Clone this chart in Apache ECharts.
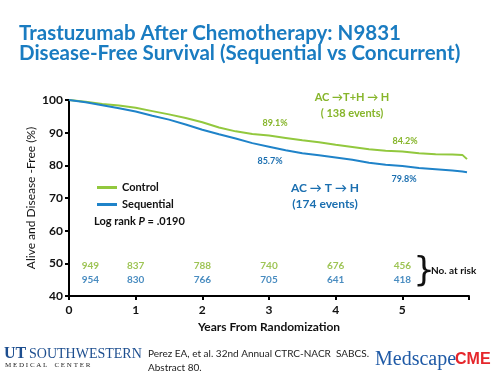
<!DOCTYPE html>
<html>
<head>
<meta charset="utf-8">
<script src="https://cdn.jsdelivr.net/npm/echarts@6/dist/echarts.min.js"></script>
<style>
    html, body { margin: 0; padding: 0; background: #fff; }
    #main { width: 500px; height: 375px; }
</style>
</head>
<body>
<div id="main"></div>
<script>
    // (years, % disease-free)
    var years = [0, 0.25, 0.5, 0.75, 1, 1.25, 1.5, 1.75, 2, 2.25, 2.5, 2.75, 3, 3.25, 3.5, 3.75, 4, 4.25, 4.5, 4.75, 5, 5.25, 5.5, 5.75, 5.9, 5.97];
    var controlDfs = [100, 99.5, 98.8, 98.3, 97.6, 96.6, 95.6, 94.5, 93.2, 91.6, 90.4, 89.6, 89.1, 88.4, 87.7, 87.1, 86.3, 85.6, 84.9, 84.5, 84.2, 83.7, 83.4, 83.3, 83.2, 81.9];
    var sequentialDfs = [100, 99.3, 98.4, 97.5, 96.5, 95.2, 94.0, 92.5, 90.9, 89.5, 88.2, 86.8, 85.7, 84.6, 83.7, 83.1, 82.4, 81.7, 80.8, 80.2, 79.8, 79.2, 78.8, 78.4, 78.1, 77.9];

    // numbers at risk
    var riskYears = [0.32, 1, 2, 3, 4, 5];
    var riskControl = [949, 837, 788, 740, 676, 456];
    var riskSequential = [954, 830, 766, 705, 641, 418];

    var yTicks = [40, 50, 60, 70, 80, 90, 100];

    var green = '#92c83e';
    var greenText = '#86b52a';
    var blue = '#1f83c9';
    var blueText = '#1b6fb0';
    var font = 'Lato, "Open Sans", sans-serif';

    function pairs(xs, ys) {
        return xs.map(function (x, i) { return [x, ys[i]]; });
    }

    var chart = echarts.init(document.getElementById('main'));
    chart.setOption({
        animation: false,
        textStyle: { fontFamily: font },
        grid: { left: 69, right: 31, top: 100, bottom: 79 },
        legend: {
            orient: 'vertical',
            left: 92,
            top: 177,
            itemWidth: 20,
            itemHeight: 3,
            itemGap: 6,
            icon: 'rect',
            textStyle: { fontFamily: font, fontSize: 11, fontWeight: 'bold', color: '#111' },
            data: ['Control', 'Sequential']
        },
        xAxis: {
            type: 'value',
            min: 0,
            max: 6,
            interval: 1,
            name: 'Years From Randomization',
            nameLocation: 'middle',
            nameGap: 25,
            nameTextStyle: { fontFamily: font, fontSize: 12, fontWeight: 'bold', color: '#111' },
            axisLine: { show: true, onZero: false, lineStyle: { color: '#000', width: 2 } },
            axisTick: { show: true, length: 4, lineStyle: { color: '#000', width: 2 } },
            axisLabel: {
                fontFamily: font, fontSize: 12, fontWeight: 'bold', color: '#111', margin: 8,
                formatter: function (v) { return v <= 5 ? String(v) : ''; }
            },
            splitLine: { show: false }
        },
        yAxis: {
            type: 'value',
            min: yTicks[0],
            max: yTicks[yTicks.length - 1],
            interval: 10,
            name: 'Alive and Disease -Free (%)',
            nameLocation: 'middle',
            nameRotate: 90,
            nameGap: 32,
            nameMoveOverlap: false,
            nameTextStyle: { fontFamily: font, fontSize: 12, color: '#111' },
            axisLine: { show: true, lineStyle: { color: '#000', width: 2 } },
            axisTick: { show: true, length: 4, lineStyle: { color: '#000', width: 2 } },
            axisLabel: { fontFamily: font, fontSize: 12, fontWeight: 'bold', color: '#111', margin: 6 },
            splitLine: { show: false }
        },
        series: [
            {
                name: 'Control',
                type: 'line',
                data: pairs(years, controlDfs),
                symbol: 'none',
                color: green,
                lineStyle: { color: green, width: 2 },
                z: 3
            },
            {
                name: 'Sequential',
                type: 'line',
                data: pairs(years, sequentialDfs),
                symbol: 'none',
                color: blue,
                lineStyle: { color: blue, width: 2 },
                z: 3
            },
            {
                name: 'riskControl',
                type: 'scatter',
                data: pairs(riskYears, riskControl.map(function () { return 49.2; })),
                symbolSize: 0,
                label: {
                    show: true, position: 'inside',
                    formatter: function (p) { return riskControl[p.dataIndex]; },
                    fontFamily: font, fontSize: 10, fontWeight: 'bold', color: greenText
                },
                silent: true
            },
            {
                name: 'riskSequential',
                type: 'scatter',
                data: pairs(riskYears, riskSequential.map(function () { return 45.0; })),
                symbolSize: 0,
                label: {
                    show: true, position: 'inside',
                    formatter: function (p) { return riskSequential[p.dataIndex]; },
                    fontFamily: font, fontSize: 10, fontWeight: 'bold', color: blueText
                },
                silent: true
            }
        ],
        graphic: [
            // title
            { type: 'text', left: 19, top: 23, style: { text: 'Trastuzumab After Chemotherapy: N9831', font: 'bold 20.5px ' + font, fill: '#1a7cc1' } },
            { type: 'text', left: 19, top: 43, style: { text: 'Disease-Free Survival (Sequential vs Concurrent)', font: 'bold 20.5px ' + font, fill: '#1a7cc1' } },

            // arm annotations
            { type: 'text', x: 352, y: 97, style: { text: 'AC \u2192T+H \u2192 H', font: 'bold 11px ' + font, fill: greenText, align: 'center', verticalAlign: 'middle' } },
            { type: 'text', x: 352, y: 113, style: { text: '( 138 events)', font: 'bold 11px ' + font, fill: greenText, align: 'center', verticalAlign: 'middle' } },
            { type: 'text', x: 275, y: 123, style: { text: '89.1%', font: 'bold 9px ' + font, fill: greenText, align: 'center', verticalAlign: 'middle' } },
            { type: 'text', x: 405, y: 141, style: { text: '84.2%', font: 'bold 9px ' + font, fill: greenText, align: 'center', verticalAlign: 'middle' } },
            { type: 'text', x: 270, y: 161, style: { text: '85.7%', font: 'bold 9px ' + font, fill: blueText, align: 'center', verticalAlign: 'middle' } },
            { type: 'text', x: 404, y: 179, style: { text: '79.8%', font: 'bold 9px ' + font, fill: blueText, align: 'center', verticalAlign: 'middle' } },
            { type: 'text', x: 325, y: 188, style: { text: 'AC \u2192 T \u2192 H', font: 'bold 12px ' + font, fill: blueText, align: 'center', verticalAlign: 'middle' } },
            { type: 'text', x: 325, y: 204, style: { text: '(174 events)', font: 'bold 12px ' + font, fill: blueText, align: 'center', verticalAlign: 'middle' } },

            // log rank
            {
                type: 'text', left: 94, top: 216,
                style: {
                    text: '{a|Log rank }{b|P}{a| = .0190}',
                    rich: {
                        a: { font: 'bold 11px ' + font, fill: '#111' },
                        b: { font: 'italic bold 11px ' + font, fill: '#111' }
                    }
                }
            },

            // at risk bracket
            { type: 'text', x: 424, y: 272, style: { text: '}', font: '34px "DejaVu Sans", sans-serif', fill: '#111', align: 'center', verticalAlign: 'middle' } },
            { type: 'text', left: 431, top: 266, style: { text: 'No. at risk', font: 'bold 10px ' + font, fill: '#111' } },

            // footer
            { type: 'text', left: 4, top: 346, style: { text: 'UT', font: 'bold 16px "Liberation Serif", serif', fill: '#1d4e8f' } },
            { type: 'text', left: 29, top: 347, style: { text: 'SOUTHWESTERN', font: '14px "Liberation Serif", serif', fill: '#1d4e8f' } },
            { type: 'text', left: 5, top: 362, style: { text: 'M E D I C A L    C E N T E R', font: '7px "Liberation Serif", serif', fill: '#222' } },
            { type: 'text', left: 148, top: 349, style: { text: 'Perez EA, et al. 32nd Annual CTRC-NACR  SABCS.', font: '10px ' + font, fill: '#222' } },
            { type: 'text', left: 148, top: 363, style: { text: 'Abstract 80.', font: '10px ' + font, fill: '#222' } },
            { type: 'text', left: 375, top: 350, style: { text: 'Medscape', font: '20px "Liberation Serif", serif', fill: '#1f5aa6' } },
            { type: 'text', left: 455, top: 352, style: { text: 'CME', font: 'bold 16px "Liberation Sans", sans-serif', fill: '#e5262b' } }
        ]
    });
</script>
</body>
</html>
